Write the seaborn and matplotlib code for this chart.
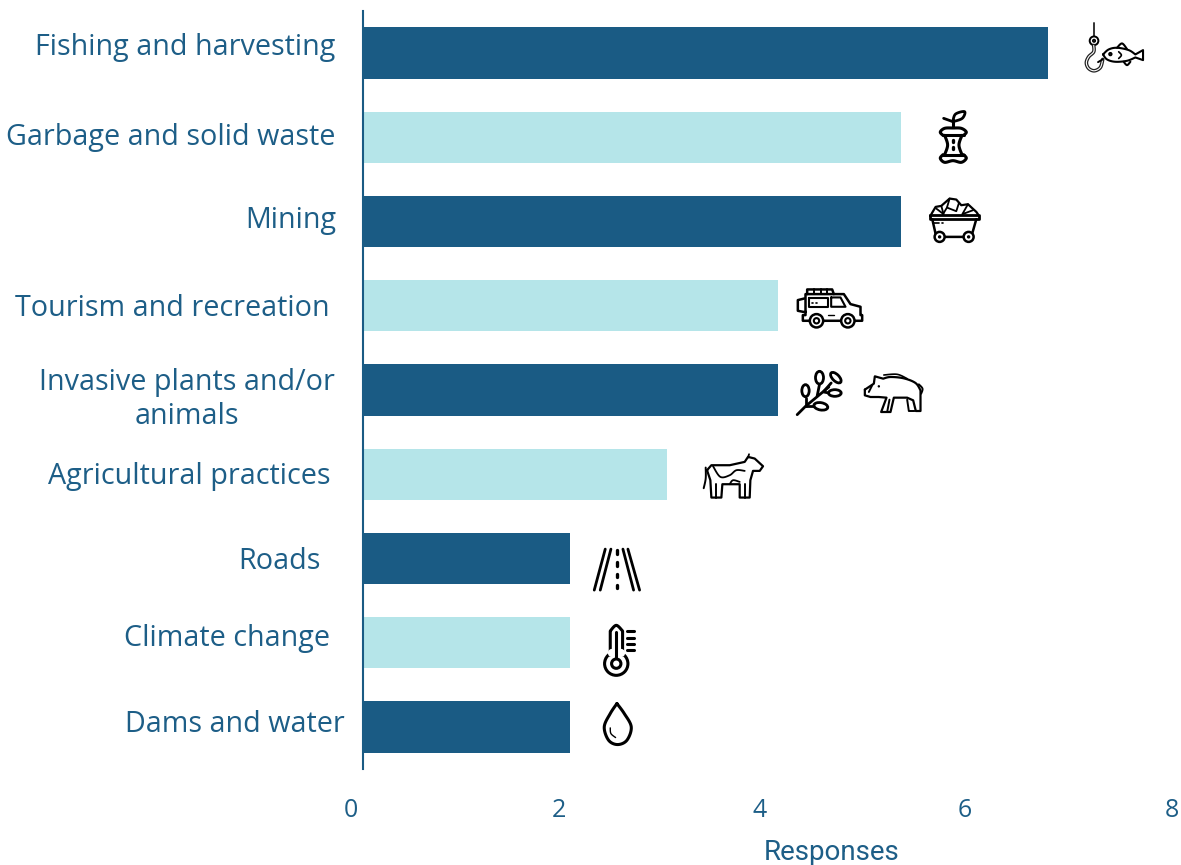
import numpy as np
import pandas as pd
import matplotlib
matplotlib.use("Agg")
import matplotlib.pyplot as plt
import seaborn as sns
from matplotlib.lines import Line2D
from matplotlib.patches import Circle, Ellipse
from matplotlib.transforms import Affine2D

categories = ["Fishing and harvesting", "Garbage and solid waste", "Mining",
              "Tourism and recreation", "Invasive plants and/or\nanimals",
              "Agricultural practices", "Roads", "Climate change", "Dams and water"]
responses = [6.68, 5.24, 5.24, 4.04, 4.04, 2.96, 2.02, 2.02, 2.02]
x_ticks = [0, 2, 4, 6, 8]

DARK = "#1a5b84"
LIGHT = "#b5e5e9"
TEXT = "#1d5e87"
W, H = 1181, 865

# label nudges in pixels, the original labels were placed by hand
label_dx = [-28, -28, -27, -33, -28, -33, -42, -33, -18]
label_dy = [9, 3, 5, 1, -4, 1, 0, 8, 6]
tick_dx = [-12, -9, -14, -13.5, -12]

df = pd.DataFrame({"threat": categories, "responses": responses})
sns.set_theme(style="white")
plt.rcParams["font.family"] = ["Open Sans", "DejaVu Sans"]

fig = plt.figure(figsize=(W / 100, H / 100), dpi=100)
ax = fig.add_axes([363 / W, (H - 769) / H, 820.8 / W, 758 / H])
colors = [DARK if i % 2 == 0 else LIGHT for i in range(len(categories))]
sns.barplot(data=df, x="responses", y="threat", hue="threat", palette=colors,
            width=0.61, saturation=1, legend=False, linewidth=0, ax=ax)
ax.set_xlim(0, 8)
ax.set_ylim(8.5, -0.5)
ax.set_xticks(x_ticks)
ax.set_ylabel("")
ax.set_xlabel("Responses", fontsize=20, color=TEXT, family="Roboto", va="center")
ax.xaxis.set_label_coords(0.571, -0.110)
ax.tick_params(axis="both", length=0)
ax.tick_params(axis="x", labelsize=18, labelcolor=TEXT, pad=21)
ax.tick_params(axis="y", labelsize=20.7, labelcolor=TEXT, pad=0)
sns.despine(ax=ax, top=True, right=True, bottom=True)
ax.spines["left"].set_color(DARK)
ax.spines["left"].set_linewidth(1.5)
ax.patch.set_alpha(0)

for lab, dx, dy in zip(ax.get_yticklabels(), label_dx, label_dy):
    lab.set_multialignment("center")
    lab.set_transform(lab.get_transform() + Affine2D().translate(dx, dy))
for lab, dx in zip(ax.get_xticklabels(), tick_dx):
    lab.set_transform(lab.get_transform() + Affine2D().translate(dx, 0))


# icons are sketched in 3x pixel units, origin at the end of the bar
def place(row, ox, oy):
    px, py = ax.transData.transform((responses[row], row))
    return Affine2D().translate(-ox, -oy).scale(1 / 3, -1 / 3).translate(px, py)


def smooth(pts, closed=False, n=10):
    p = np.array(pts, dtype=float)
    if closed:
        p = np.vstack([p[-1], p, p[0], p[1]])
    else:
        p = np.vstack([p[0], p, p[-1]])
    out = []
    for i in range(1, len(p) - 2):
        for t in np.linspace(0, 1, n, endpoint=False):
            out.append(0.5 * (2 * p[i] + (p[i + 1] - p[i - 1]) * t
                              + (2 * p[i - 1] - 5 * p[i] + 4 * p[i + 1] - p[i + 2]) * t ** 2
                              + (3 * p[i] - p[i - 1] - 3 * p[i + 1] + p[i + 2]) * t ** 3))
    out.append(p[-2])
    return out


def line(t, pts, lw=1.5, color="black"):
    xs, ys = zip(*pts)
    fig.add_artist(Line2D(xs, ys, transform=t, color=color, lw=lw,
                          solid_capstyle="round", solid_joinstyle="round", zorder=5))


def ring(t, x, y, r, lw=1.5, fill="white", z=5):
    fig.add_artist(Circle((x, y), r, transform=t, fc=fill, ec="black", lw=lw, zorder=z))


def fish_hook(t):
    line(t, [(521, 38), (521, 78)], 1.4, "#333333")
    ring(t, 521, 92, 13, 1.4)
    ring(t, 521, 92, 4, 1, "#333333")
    hook = smooth([(520, 106), (520, 125), (505, 140), (498, 158), (505, 175),
                   (522, 182), (540, 172), (547, 148)])
    line(t, hook, 2.6, "#222222")
    line(t, hook, 0.8, "white")
    line(t, [(547, 148), (533, 156)], 1.4)
    body = smooth([(548, 133), (565, 118), (590, 113), (625, 120), (645, 133)]) + \
        [(668, 120), (668, 150), (645, 142)] + \
        smooth([(645, 142), (620, 152), (585, 155), (560, 148), (548, 133)])
    line(t, body, 1.5)
    line(t, smooth([(590, 113), (605, 100), (620, 117)]), 1.5)
    line(t, smooth([(610, 155), (620, 165), (630, 155)]), 1.5)
    ring(t, 570, 132, 4, 1.2, "#333333")
    line(t, smooth([(595, 125), (603, 135), (595, 145)]), 1.2)


def apple_core(t):
    line(t, [(100, 352), (100, 330)], 2.2)
    line(t, smooth([(100, 332), (108, 312), (135, 305), (128, 325), (100, 335)]), 2)
    line(t, [(72, 325), (100, 335)], 2)
    line(t, smooth([(70, 376), (62, 366), (75, 355), (100, 354), (125, 355), (140, 366), (132, 376)]), 2.2)
    line(t, [(70, 376), (132, 376)], 2.2)
    line(t, smooth([(75, 376), (84, 405), (75, 434)]), 2.2)
    line(t, smooth([(127, 376), (118, 405), (127, 434)]), 2.2)
    line(t, smooth([(70, 434), (62, 445), (75, 457), (100, 452), (125, 457), (140, 445), (132, 434)]), 2.2)
    line(t, [(70, 434), (132, 434)], 2.2)
    line(t, [(100, 390), (100, 397)], 2.4)
    line(t, [(100, 411), (100, 418)], 2.4)


def mine_cart(t):
    line(t, [(35, 612), (48, 590), (65, 587), (90, 565), (110, 568), (125, 585),
             (145, 582), (170, 605), (175, 612)], 1.6)
    line(t, [(65, 587), (72, 612), (50, 595)], 1.3)
    line(t, [(90, 565), (82, 592), (110, 603), (118, 578)], 1.3)
    line(t, [(82, 592), (70, 612)], 1.3)
    line(t, [(145, 582), (128, 612), (160, 600)], 1.3)
    line(t, [(30, 613), (178, 613), (178, 627), (30, 627), (30, 613)], 2)
    line(t, [(38, 627), (50, 680), (155, 680), (170, 627)], 1.8)
    line(t, [(40, 638), (58, 638)], 1.2)
    line(t, [(68, 638), (71, 638)], 1.2)
    for x in (60, 147):
        ring(t, x, 680, 15, 1.8)
        ring(t, x, 680, 3, 1, "black")


def jeep(t):
    line(t, [(350, 42), (350, 28), (425, 28), (430, 42)], 1.8)
    for x in (370, 390, 410):
        line(t, [(x, 28), (x, 42)], 1.4)
    line(t, [(345, 95), (345, 42), (460, 42), (480, 72), (510, 80), (510, 105),
             (515, 105), (515, 122), (337, 122), (337, 105), (345, 105), (345, 95)], 1.8)
    line(t, [(342, 55), (322, 60), (322, 92), (342, 96)], 1.8)
    line(t, [(355, 55), (412, 55), (412, 82), (355, 82), (355, 55)], 1.5)
    line(t, [(422, 52), (450, 52), (465, 80), (422, 80), (422, 52)], 1.5)
    line(t, [(363, 68), (367, 68)], 1.2)
    line(t, [(376, 68), (380, 68)], 1.2)
    line(t, [(413, 105), (430, 105)], 1)
    for x in (378, 472):
        ring(t, x, 122, 20, 1.8)
        ring(t, x, 122, 8, 1.5)


def branch(t):
    line(t, [(320, 403), (345, 378), (415, 320)], 2)
    line(t, [(345, 378), (345, 352)], 2)
    line(t, [(380, 347), (387, 312)], 2)
    line(t, [(400, 333), (422, 308)], 2)
    line(t, [(400, 335), (415, 338)], 2)
    line(t, [(345, 378), (370, 378)], 2)
    for x, y, w, h, a in [(345, 331, 22, 36, 0), (387, 292, 24, 38, 0), (436, 292, 20, 40, -45),
                          (433, 338, 38, 20, 0), (391, 378, 42, 22, 10)]:
        fig.add_artist(Ellipse((x, y), w, h, angle=a, transform=t, fc="white",
                               ec="black", lw=2, zorder=5))


def boar(t):
    back = smooth([(578, 295), (600, 290), (640, 294), (675, 308), (690, 330)])
    line(t, [(523, 328), (550, 310), (553, 288), (578, 295)] + back +
         [(690, 392), (676, 392), (668, 360), (650, 352), (610, 352), (600, 395),
          (572, 395), (588, 352), (565, 350), (540, 350), (523, 345), (523, 328)], 1.6)
    line(t, [(650, 358), (655, 392), (672, 392)], 1.4)
    line(t, [(597, 358), (590, 395)], 1.4)
    line(t, smooth([(580, 284), (620, 282), (650, 295)]), 1.2)
    line(t, smooth([(685, 312), (696, 325), (692, 340)]), 1.4)
    line(t, [(535, 335), (545, 315)], 1.4)
    ring(t, 565, 318, 1.5, 1, "black")


def cow(t):
    line(t, [(52, 570), (65, 555), (120, 555), (165, 545), (175, 530), (195, 535),
             (220, 558), (210, 572), (190, 572), (182, 600), (180, 652), (150, 652),
             (150, 612), (98, 612), (95, 652), (65, 652), (62, 600), (52, 570)], 1.6)
    line(t, smooth([(48, 562), (48, 595), (42, 624)]), 1.4)
    line(t, smooth([(70, 558), (92, 590), (120, 585), (140, 570), (165, 572)]), 1.3)
    line(t, smooth([(120, 612), (130, 600), (150, 605)]), 1.3)
    line(t, [(80, 612), (80, 652)], 1.4)
    line(t, [(165, 612), (165, 652)], 1.4)
    line(t, [(175, 532), (178, 522)], 1.3)


def road(t):
    for a, b in [((75, 42), (42, 165)), ((92, 42), (60, 165)),
                 ((128, 42), (160, 165)), ((143, 42), (178, 165))]:
        line(t, [a, b], 2)
    for y0, y1 in [(46, 58), (82, 94), (116, 126), (150, 160)]:
        line(t, [(110, y0), (110, y1)], 2.4)


def thermometer(t):
    ring(t, 108, 385, 35, 2.2)
    fig.add_artist(Circle((108, 385), 14, transform=t, fc="white", ec="black", lw=2.2, zorder=6))
    line(t, [(90, 360), (90, 287)] + smooth([(90, 287), (108, 270), (127, 287)]) + [(127, 360)], 2.2)
    fig.add_artist(Line2D([95, 122], [352, 352], transform=t, color="white", lw=6, zorder=5))
    line(t, [(108, 290), (108, 370)], 2.2)
    for y in (288, 308, 326, 345):
        line(t, [(140, y), (162, y)], 2.2)


def drop(t):
    line(t, smooth([(110, 505), (90, 535), (72, 575), (85, 615), (112, 628),
                    (140, 615), (153, 575), (132, 535), (110, 505)]), 2.2)
    line(t, smooth([(90, 578), (92, 595), (106, 607)]), 1)


fish_hook(place(0, 384, 129))
apple_core(place(1, -57, 382))
mine_cart(place(2, -57, 634))
jeep(place(3, 261, 77))
branch(place(4, 261, 329))
boar(place(4, 261, 329))
cow(place(5, -69, 582))
road(place(6, -30, 70))
thermometer(place(7, -30, 322))
drop(place(8, -30, 575))

fig.savefig("out.png", dpi=100)
